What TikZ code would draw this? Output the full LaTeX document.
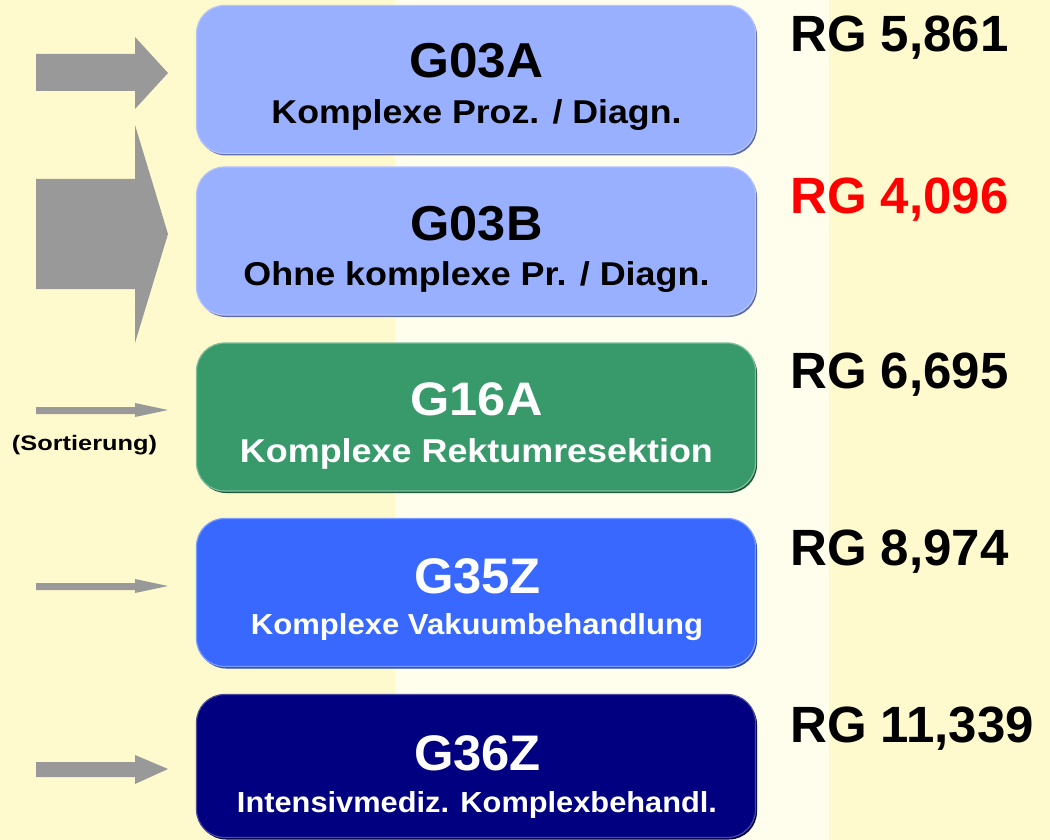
\documentclass[tikz,border=0pt]{standalone}
\usepackage{fontspec}
\setmainfont{Liberation Sans}
\usetikzlibrary{shadows}
\newcommand\fitw[2]{\resizebox{#1}{\height}{#2}}
\newcommand\fsz[1]{\fontsize{#1}{#1}\selectfont\bfseries}
\definecolor{bgyel}{HTML}{FFFACD}
\definecolor{bgmid}{HTML}{FFFDEB}
\definecolor{arrgray}{HTML}{999999}
\definecolor{lilac}{HTML}{99AFFF}
\definecolor{lilacdk}{HTML}{5E6DA8}
\definecolor{lilaclt}{HTML}{B4C4FF}
\definecolor{grn}{HTML}{389A6A}
\definecolor{grndk}{HTML}{1F5A3C}
\definecolor{grnlt}{HTML}{7FBE9C}
\definecolor{blu}{HTML}{3868FF}
\definecolor{bludk}{HTML}{2A4AB0}
\definecolor{blult}{HTML}{7A9BFF}
\definecolor{nav}{HTML}{000080}
\definecolor{navdk}{HTML}{00004A}
\definecolor{navlt}{HTML}{4A4AA0}
\begin{document}
\begin{tikzpicture}[x=1pt,y=-1pt,
  grp/.style={rectangle, rounded corners=28pt, minimum width=559pt, minimum height=148pt, inner sep=0pt, line width=1.2pt},
  txt/.style={anchor=base, inner sep=0pt},
  rg/.style={anchor=base west, inner sep=0pt, font=\fsz{51}},
  blockarrow/.style={fill=arrgray, draw=none}]
\useasboundingbox (0,0) rectangle (1050,840);
% background
\fill[bgyel] (0,0) rectangle (1050,840);
\fill[bgmid] (395,0) rectangle (829,840);
% block arrows
\fill[blockarrow] (36,54) -- (135,54) -- (135,37) -- (168,73) -- (135,109) -- (135,91) -- (36,91) -- cycle;
\fill[blockarrow] (36,179) -- (135,179) -- (135,125) -- (168,234) -- (135,343) -- (135,289) -- (36,289) -- cycle;
\fill[blockarrow] (36,407) -- (135,407) -- (135,403) -- (168,410) -- (135,417) -- (135,414) -- (36,414) -- cycle;
\fill[blockarrow] (36,583) -- (135,583) -- (135,579) -- (168,586) -- (135,593) -- (135,590) -- (36,590) -- cycle;
\fill[blockarrow] (36,762) -- (135,762) -- (135,755) -- (168,769) -- (135,784) -- (135,777) -- (36,777) -- cycle;
\node[txt] (sort) at (84.5,450) {\fitw{145pt}{\fsz{21}(Sortierung)}};
% boxes
\node[grp, fill=lilac, draw=lilaclt, drop shadow={shadow xshift=1.5pt, shadow yshift=-2pt, fill=lilacdk, opacity=1}] (b1) at (476,79.5) {};
\node[grp, fill=lilac, draw=lilaclt, drop shadow={shadow xshift=1.5pt, shadow yshift=-2pt, fill=lilacdk, opacity=1}] (b2) at (476,241) {};
\node[grp, fill=grn, draw=grnlt, drop shadow={shadow xshift=1.5pt, shadow yshift=-2pt, fill=grndk, opacity=1}] (b3) at (476,417) {};
\node[grp, fill=blu, draw=blult, drop shadow={shadow xshift=1.5pt, shadow yshift=-2pt, fill=bludk, opacity=1}] (b4) at (476,592.5) {};
\node[grp, fill=nav, draw=navlt, minimum height=143pt, drop shadow={shadow xshift=1.5pt, shadow yshift=-2pt, fill=navdk, opacity=1}] (b5) at (476,766) {};
% box texts
\node[txt] (t1) at (476.5,78) {\fitw{134pt}{\fsz{49}G03A}};
\node[txt] (s1) at (476.5,124) {\fitw{410pt}{\fsz{33}Komplexe Proz. / Diagn.}};
\node[txt] (t2) at (476.5,240) {\fitw{132pt}{\fsz{49}G03B}};
\node[txt] (s2) at (476.5,285) {\fitw{466pt}{\fsz{33}Ohne komplexe Pr. / Diagn.}};
\node[txt, text=white] (t3) at (476.5,415) {\fitw{132pt}{\fsz{47}G16A}};
\node[txt, text=white] (s3) at (476.5,462) {\fitw{473pt}{\fsz{33}Komplexe Rektumresektion}};
\node[txt, text=white] (t4) at (477.5,593) {\fitw{127pt}{\fsz{50}G35Z}};
\node[txt, text=white] (s4) at (477,634) {\fitw{452pt}{\fsz{29}Komplexe Vakuumbehandlung}};
\node[txt, text=white] (t5) at (477.5,770) {\fitw{127pt}{\fsz{50}G36Z}};
\node[txt, text=white] (s5) at (477,812) {\fitw{480pt}{\fsz{29}Intensivmediz. Komplexbehandl.}};
% RG values
\node[rg] (r1) at (790,52) {RG 5,861};
\node[rg, text=red] (r2) at (790,213) {RG 4,096};
\node[rg] (r3) at (790,388) {RG 6,695};
\node[rg] (r4) at (790,565) {RG 8,974};
\node[rg] (r5) at (790,742) {RG 11,339};
\end{tikzpicture}
\end{document}
